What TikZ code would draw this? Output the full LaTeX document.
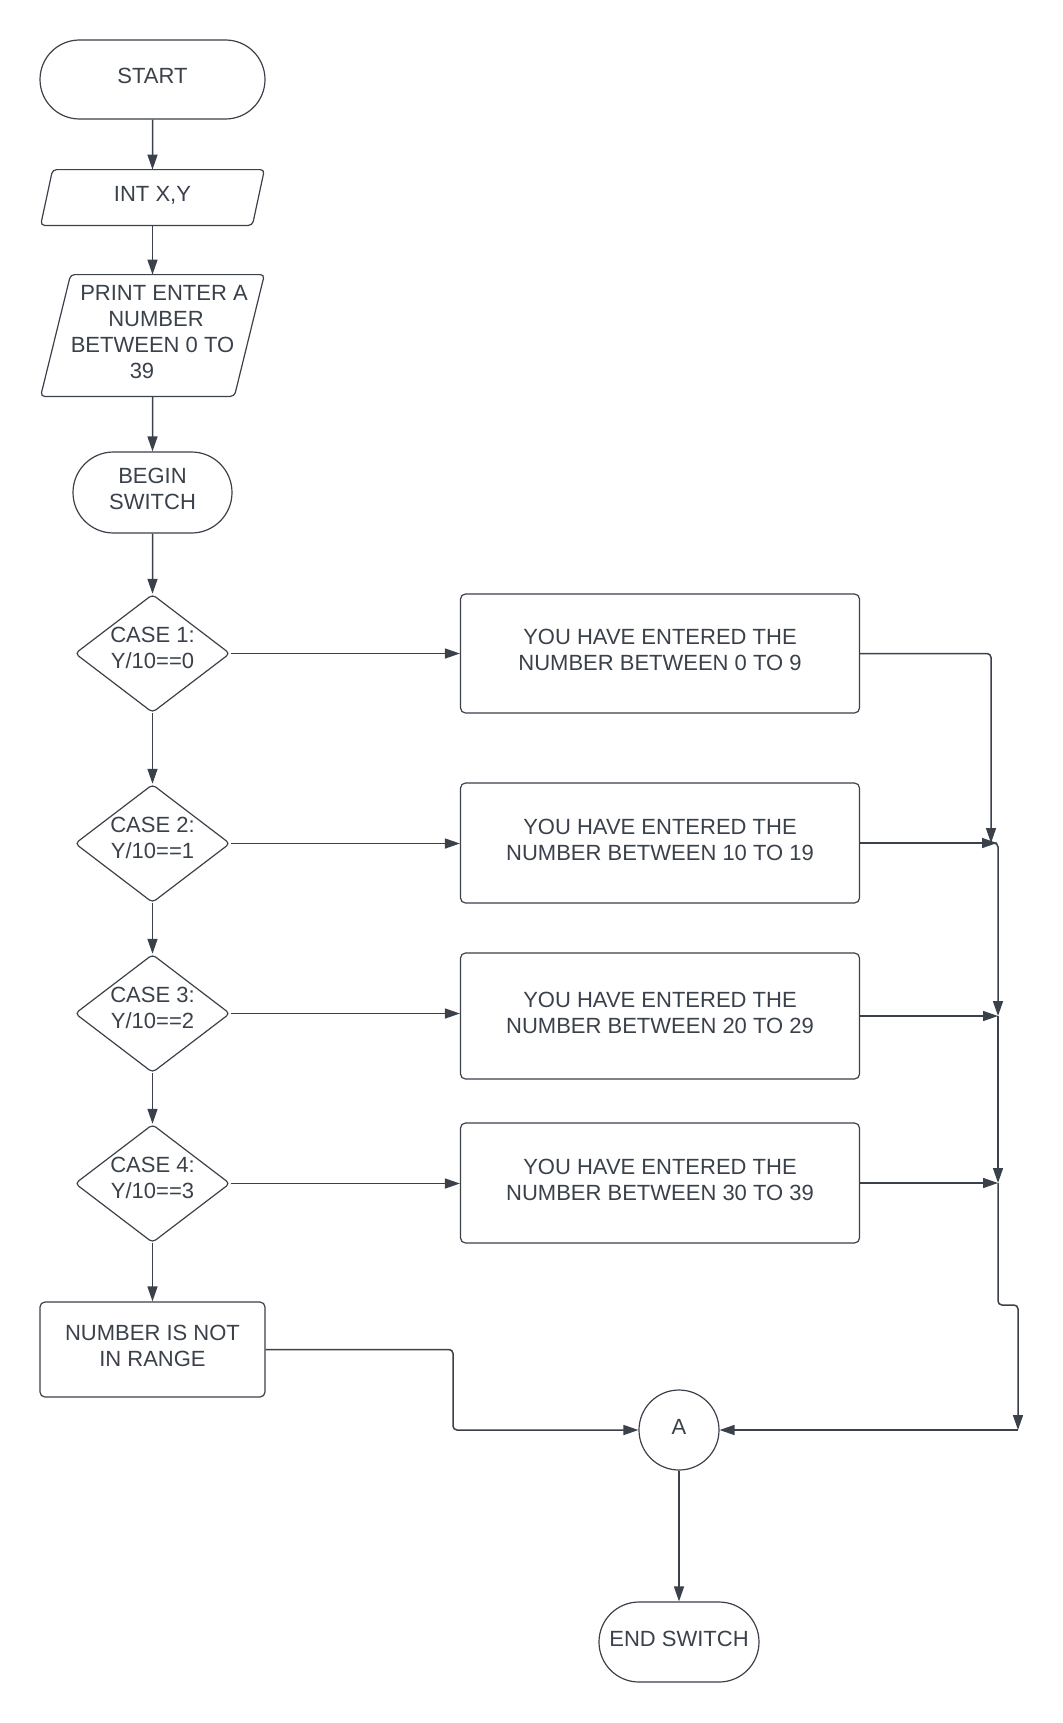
\documentclass[tikz,border=0pt]{standalone}
\usepackage{fontspec}
\setmainfont{Liberation Sans}
\usetikzlibrary{shapes.geometric,shapes.misc,arrows.meta}
\definecolor{inkgray}{RGB}{58,65,74}
\tikzset{
  terminal/.style={draw=inkgray, line width=0.6pt, rounded rectangle, rounded rectangle arc length=180, inner sep=0pt, align=center},
  procbox/.style={draw=inkgray, line width=0.6pt, rectangle, rounded corners=2.5pt, inner sep=0pt, align=center},
  iobox/.style={rectangle, inner sep=0pt, align=center, minimum width=111.5pt},
  ioframe/.style={draw=inkgray, line width=0.6pt, rounded corners=2pt},
  decision/.style={draw=inkgray, line width=0.6pt, diamond, aspect=1.3, rounded corners=2pt, inner sep=0pt, minimum width=77.5pt, minimum height=58.5pt, align=center, text depth=6pt},
  joint/.style={draw=inkgray, line width=0.6pt, circle, inner sep=0pt, minimum size=40pt},
  arr/.style={draw=inkgray, line width=0.75pt, -{Triangle[length=7.5pt,width=5pt]}, rounded corners=2pt},
}
\begin{document}
\begin{tikzpicture}[x=0.5pt,y=0.5pt,yscale=-1,xscale=1,
  every node/.style={text=inkgray, font=\fontsize{11}{13}\selectfont, text depth=3.5pt}]
        \useasboundingbox (0,0) rectangle (1063,1723);
        % Terminals
        \node[terminal, minimum width=112.5pt, minimum height=39.5pt] (start) at (152.5,79.5) {START};
        \node[terminal, minimum width=79.5pt, minimum height=40.5pt] (beginsw) at (152.5,492.5) {BEGIN\\SWITCH};
        \node[terminal, minimum width=80pt, minimum height=40pt] (endsw) at (679,1642) {END SWITCH};
        % Input / output
        \node[iobox, minimum height=27.5pt] (intxy) at (152.5,197.5) {INT X,Y};
        \draw[ioframe] ([xshift=6pt]intxy.north west) -- (intxy.north east) -- ([xshift=-6pt]intxy.south east) -- (intxy.south west) -- cycle;
        \node[iobox, minimum height=60.5pt] (prompt) at (152.5,335.5) {\hspace*{11.5pt}PRINT ENTER A\\\hspace*{3.5pt}NUMBER\\BETWEEN 0 TO\hspace*{2.5pt}\\39\hspace*{10.5pt}};
        \draw[ioframe] ([xshift=15pt]prompt.north west) -- (prompt.north east) -- ([xshift=-15pt]prompt.south east) -- (prompt.south west) -- cycle;
        % Decisions
        \node[decision] (case1) at (152.5,653.5) {CASE 1:\\Y/10==0};
        \node[decision] (case2) at (152.5,843.5) {CASE 2:\\Y/10==1};
        \node[decision] (case3) at (152.5,1013.5) {CASE 3:\\Y/10==2};
        \node[decision] (case4) at (152.5,1183.5) {CASE 4:\\Y/10==3};
        % Processes
        \node[procbox, minimum width=199.5pt, minimum height=59.5pt] (msg1) at (660,653.5) {YOU HAVE ENTERED THE\\NUMBER BETWEEN 0 TO 9};
        \node[procbox, minimum width=199.5pt, minimum height=60pt] (msg2) at (660,843) {YOU HAVE ENTERED THE\\NUMBER BETWEEN 10 TO 19};
        \node[procbox, minimum width=199.5pt, minimum height=63pt] (msg3) at (660,1016) {YOU HAVE ENTERED THE\\NUMBER BETWEEN 20 TO 29};
        \node[procbox, minimum width=199.5pt, minimum height=60pt] (msg4) at (660,1183) {YOU HAVE ENTERED THE\\NUMBER BETWEEN 30 TO 39};
        \node[procbox, minimum width=112.5pt, minimum height=47.5pt] (notrange) at (152.5,1349.5) {NUMBER IS NOT\\IN RANGE};
        % Connector A
        \node[joint] (conA) at (679,1430) {A};
        % Bend points
        \coordinate (j0) at (991,843);
        \coordinate (j1) at (997,843);
        \coordinate (j2) at (998,1016);
        \coordinate (j3) at (998,1183);
        \coordinate (jog) at (1018,1305);
        \coordinate (j4) at (1018,1430);
        \coordinate (nb) at (453,1430);
        % Main flow
        \draw[arr] (start) -- (intxy);
        \draw[arr] (intxy) -- (prompt);
        \draw[arr] (prompt) -- (beginsw);
        \draw[arr] (beginsw) -- (case1);
        \draw[arr] (case1) -- (case2);
        \draw[arr] (case2) -- (case3);
        \draw[arr] (case3) -- (case4);
        \draw[arr] (case4) -- (notrange);
        % Cases
        \draw[arr] (case1) -- (case1 -| msg1.west);
        \draw[arr] (case2) -- (case2 -| msg2.west);
        \draw[arr] (case3) -- (case3 -| msg3.west);
        \draw[arr] (case4) -- (case4 -| msg4.west);
        % Merge on the right
        \draw[arr] (msg1.east) -| (j0);
        \draw[arr] (msg2.east) -- (j1);
        \draw[arr] (j1) -- (j2 |- j1) -- (j2);
        \draw[arr] (msg3.east) -- (j2);
        \draw[arr] (j2) -- (j3);
        \draw[arr] (msg4.east) -- (j3);
        \draw[arr] (j3) |- (jog) -- (j4);
        \draw[arr] (j4) -- (conA);
        \draw[arr] (notrange.east) -| (nb) -- (conA);
        \draw[arr] (conA) -- (endsw);
\end{tikzpicture}
\end{document}
